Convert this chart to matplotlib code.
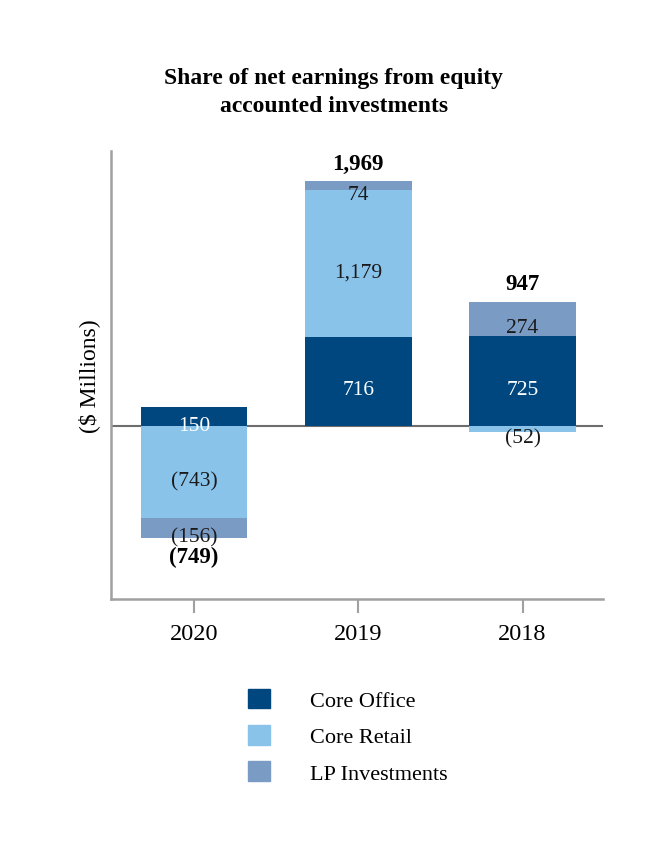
import numpy as np
import matplotlib.pyplot as plt
from matplotlib.patches import Patch

plt.rcParams['font.family'] = ['Liberation Serif', 'DejaVu Serif']

# 数据
years = ["2020", "2019", "2018"]
core_office = [150, 716, 725]
core_retail = [-743, 1179, -52]
lp_invest = [-156, 74, 274]
totals = [-749, 1969, 947]

office_lbl = ["150", "716", "725"]
retail_lbl = ["(743)", "1,179", "(52)"]
lp_lbl = ["(156)", "74", "274"]
total_lbl = ["(749)", "1,969", "947"]

c_office = "#00477f"
c_retail = "#89c3ea"
c_lp = "#799bc4"

fig = plt.figure(figsize=(6.68, 8.62), dpi=100)
ax = fig.add_axes([0.1662, 0.3039, 0.7365, 0.5197])

x = np.arange(len(years))
w = 0.65

# 堆叠：正值向上，负值向下
pos_base = np.zeros(len(years))
neg_base = np.zeros(len(years))
series = [(core_office, c_office, office_lbl, "white"),
          (core_retail, c_retail, retail_lbl, "#1a1a1a"),
          (lp_invest, c_lp, lp_lbl, "#1a1a1a")]
for vals, col, lbls, tcol in series:
    vals = np.array(vals, dtype=float)
    base = np.where(vals >= 0, pos_base, neg_base)
    ax.bar(x, vals, w, bottom=base, color=col, zorder=3)
    for i in range(len(x)):
        yc = base[i] + vals[i] / 2
        ax.annotate(lbls[i], (x[i], yc), xytext=(0, -6), textcoords="offset points",
                    ha="center", va="center", fontsize=15.5, color=tcol, zorder=5)
    pos_base = np.where(vals >= 0, pos_base + vals, pos_base)
    neg_base = np.where(vals < 0, neg_base + vals, neg_base)

for i in range(len(x)):
    if totals[i] >= 0:
        ax.annotate(total_lbl[i], (x[i], pos_base[i]), xytext=(0, 5.5), textcoords="offset points",
                    ha="center", va="bottom", fontsize=16.5, fontweight="bold")
    else:
        ax.annotate(total_lbl[i], (x[i], neg_base[i]), xytext=(0, -6), textcoords="offset points",
                    ha="center", va="top", fontsize=16.5, fontweight="bold")

ax.axhline(0, color="#6e6e6e", lw=1.5, zorder=2)
ax.set_xlim(-0.506, 2.49)
ax.set_ylim(-1392, 2212)
ax.set_xticks(x)
ax.set_xticklabels(years, fontsize=17.5)
ax.set_yticks([])
for s in ["top", "right"]:
    ax.spines[s].set_visible(False)
for s in ["left", "bottom"]:
    ax.spines[s].set_color("#a0a0a0")
    ax.spines[s].set_linewidth(1.8)
ax.tick_params(axis="x", length=10, width=1.5, color="#a0a0a0", pad=7.5)
ax.set_ylabel("($ Millions)", fontsize=17, labelpad=8)

fig.suptitle("Share of net earnings from equity\naccounted investments",
             x=0.5, y=0.921, fontsize=17, fontweight="bold", linespacing=1.45)

handles = [Patch(color=c_office, label="Core Office"),
           Patch(color=c_retail, label="Core Retail"),
           Patch(color=c_lp, label="LP Investments")]
fig.legend(handles=handles, loc="upper left", bbox_to_anchor=(0.371, 0.2),
           frameon=False, fontsize=16, handlelength=1.0, handleheight=1.0,
           handletextpad=1.8, labelspacing=0.62, borderaxespad=0, borderpad=0)

plt.savefig("out.png", dpi=100)
